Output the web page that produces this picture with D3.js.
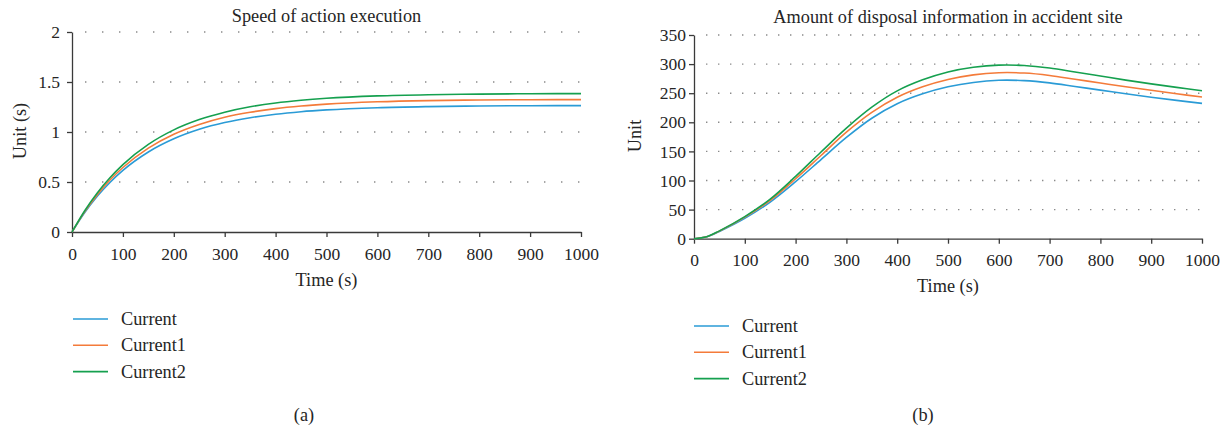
<!DOCTYPE html>
<html>
<head>
<meta charset="utf-8">
<script src="https://cdn.jsdelivr.net/npm/d3@7"></script>
<style>
  html, body { margin: 0; padding: 0; background: #fff; }
  svg { display: block; font-family: "Liberation Serif", "Times New Roman", serif; }
  .axis path, .axis line { stroke: #3a3a3a; stroke-width: 1.3; }
  .axis text { fill: #252525; font-size: 17.5px; font-family: "Liberation Serif", serif; }
  .lbl { fill: #252525; font-size: 18.3px; }
</style>
</head>
<body>
<svg id="chart" width="1228" height="432"></svg>
<script>
// Sample times (s)
const timesA = [0, 25, 50, 75, 100, 150, 200, 250, 300, 350, 400, 450, 500, 600, 700, 800, 900, 1000];
const timesB = [0, 25, 50, 100, 150, 200, 250, 300, 350, 400, 450, 500, 550, 600, 650, 700, 750, 800, 850, 900, 950, 1000];

// (a) Speed of action execution
const speedCurrent  = [0, 0.194, 0.359, 0.498, 0.616, 0.800, 0.932, 1.027, 1.095, 1.143, 1.178, 1.203, 1.221, 1.243, 1.254, 1.260, 1.263, 1.264];
const speedCurrent1 = [0, 0.204, 0.376, 0.522, 0.645, 0.838, 0.977, 1.075, 1.147, 1.197, 1.234, 1.260, 1.279, 1.302, 1.314, 1.320, 1.323, 1.324];
const speedCurrent2 = [0, 0.213, 0.393, 0.545, 0.674, 0.876, 1.021, 1.124, 1.198, 1.252, 1.290, 1.317, 1.337, 1.361, 1.373, 1.379, 1.383, 1.384];

// (b) Amount of disposal information in accident site
const infoCurrent  = [0, 3.2, 12.5, 35, 63, 98, 136, 174, 207, 232, 249, 261, 268.5, 272.2, 271.6, 267.7, 261.5, 255.3, 249, 243, 237.6, 232.5];
const infoCurrent1 = [0, 3.3, 13, 37, 66, 103, 143, 183, 217, 243, 261, 273.5, 281.5, 285.2, 284.6, 280.5, 274, 267.5, 261, 255, 249, 243.4];
const infoCurrent2 = [0, 3.4, 13.5, 38, 68, 107, 149, 190, 226, 254, 273, 286.5, 294.5, 298.3, 297.6, 293.3, 286.5, 279.5, 272.5, 266, 260, 254.3];

const seriesNames = ["Current", "Current1", "Current2"];
const seriesColors = ["#2a9bd6", "#f47b3a", "#15a04f"];

const xTicks = [0, 100, 200, 300, 400, 500, 600, 700, 800, 900, 1000];
const yTicksA = [0, 0.5, 1, 1.5, 2];
const yTicksB = [0, 50, 100, 150, 200, 250, 300, 350];

const svg = d3.select("#chart");

function panel(cfg) {
  const g = svg.append("g");
  const x = d3.scaleLinear().domain([0, 1000]).range([cfg.left, cfg.right]);
  const y = d3.scaleLinear().domain([0, cfg.yMax]).range([cfg.bottom, cfg.top]);

  // dotted horizontal gridlines
  const gridVals = cfg.yTicks.filter(v => v > 0);
  g.append("g").selectAll("line").data(gridVals).join("line")
    .attr("x1", cfg.gridStart).attr("x2", cfg.gridEnd + 2)
    .attr("y1", d => y(d)).attr("y2", d => y(d))
    .attr("stroke", "#8a8a8a").attr("stroke-width", 1.4)
    .attr("stroke-dasharray", `1.4 ${cfg.gridStep - 1.4}`);

  // axes
  g.append("g").attr("class", "axis")
    .attr("transform", `translate(0,${cfg.bottom})`)
    .call(d3.axisBottom(x).tickValues(xTicks).tickFormat(d3.format("d"))
      .tickSize(5).tickSizeOuter(0).tickPadding(cfg.xPad));
  g.append("g").attr("class", "axis")
    .attr("transform", `translate(${cfg.left},0)`)
    .call(d3.axisLeft(y).tickValues(cfg.yTicks).tickFormat(cfg.yFmt)
      .tickSize(5).tickSizeOuter(0).tickPadding(cfg.yPad));

  // curves
  const line = d3.line().x(d => x(d[0])).y(d => y(d[1])).curve(cfg.curve);
  cfg.series.forEach((vals, i) => {
    g.append("path")
      .datum(cfg.times.map((t, k) => [t, vals[k]]))
      .attr("fill", "none").attr("stroke", seriesColors[i]).attr("stroke-width", 1.6)
      .attr("d", line);
  });

  // titles and labels
  const cx = (cfg.left + cfg.right) / 2;
  g.append("text").attr("class", "lbl").attr("x", cx).attr("y", cfg.titleY)
    .attr("text-anchor", "middle").text(cfg.title);
  g.append("text").attr("class", "lbl").attr("x", cx).attr("y", cfg.xLabelY)
    .attr("text-anchor", "middle").text("Time (s)");
  g.append("text").attr("class", "lbl")
    .attr("transform", `translate(${cfg.yLabelX},${cfg.yLabelY}) rotate(-90)`)
    .attr("text-anchor", "middle").attr("dy", "0.35em").text(cfg.yLabel);

  // legend
  seriesNames.forEach((name, i) => {
    const ly = cfg.legendY + i * 26.3;
    g.append("line").attr("x1", cfg.legendX).attr("x2", cfg.legendX + 35)
      .attr("y1", ly).attr("y2", ly)
      .attr("stroke", seriesColors[i]).attr("stroke-width", 1.6);
    g.append("text").attr("class", "lbl").attr("x", cfg.legendX + 48).attr("y", ly + 6).text(name);
  });

  g.append("text").attr("class", "lbl").attr("x", cfg.tagX).attr("y", 421)
    .attr("text-anchor", "middle").text(cfg.tag);
}

panel({
  left: 72, right: 581, top: 32, bottom: 232, yMax: 2,
  yTicks: yTicksA, yFmt: d => String(d),
  gridStart: 85, gridEnd: 578, gridStep: 17,
  xPad: 11, yPad: 7, curve: d3.curveMonotoneX,
  times: timesA, series: [speedCurrent, speedCurrent1, speedCurrent2],
  title: "Speed of action execution", titleY: 22,
  xLabelY: 286, yLabel: "Unit (s)", yLabelX: 20, yLabelY: 131,
  legendX: 73, legendY: 319, tagX: 304, tag: "(a)"
});

panel({
  left: 694, right: 1202, top: 35, bottom: 238.7, yMax: 350,
  yTicks: yTicksB, yFmt: d => String(d),
  gridStart: 706, gridEnd: 1198, gridStep: 12,
  xPad: 10, yPad: 3, curve: d3.curveCatmullRom.alpha(0.5),
  times: timesB, series: [infoCurrent, infoCurrent1, infoCurrent2],
  title: "Amount of disposal information in accident site", titleY: 23,
  xLabelY: 292, yLabel: "Unit", yLabelX: 635, yLabelY: 136,
  legendX: 694, legendY: 326, tagX: 923, tag: "(b)"
});
</script>
</body>
</html>
